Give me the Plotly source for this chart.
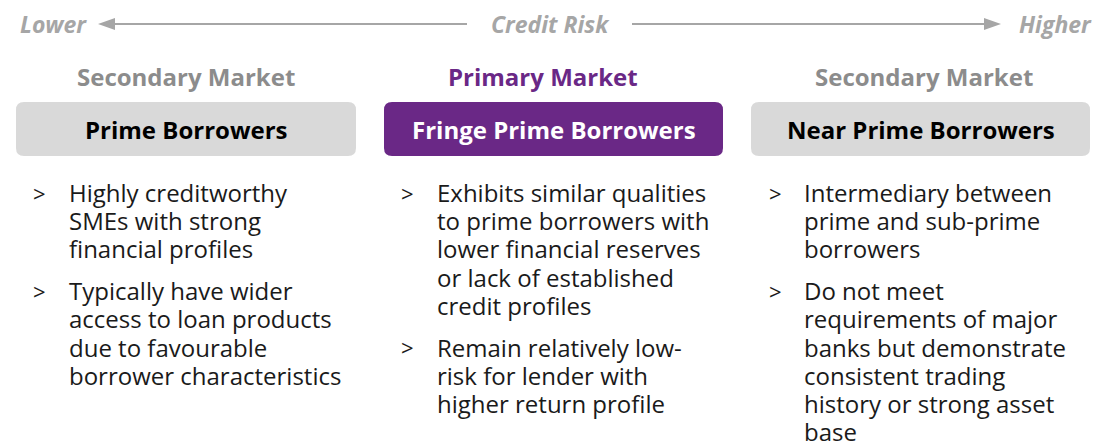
import plotly.graph_objects as go

W, H = 1099, 445
FONT = "Open Sans"
GREY_TXT = "#8c8c8c"
ARROW_GREY = "#a6a6a6"
PURPLE = "#6a2886"
BOX_GREY = "#d9d9d9"
BODY = "#1a1a1a"

# content
markets = ["Secondary Market", "Primary Market", "Secondary Market"]
market_centers = [186, 543, 924]
market_colors = [GREY_TXT, PURPLE, GREY_TXT]

boxes = ["Prime Borrowers", "Fringe Prime Borrowers", "Near Prime Borrowers"]
box_x0 = [16, 384, 751]
box_x1 = [356, 723, 1090]
box_fill = [BOX_GREY, PURPLE, BOX_GREY]
box_text = ["#000000", "#ffffff", "#000000"]

bullets = [
    [["Highly creditworthy", "SMEs with strong", "financial profiles"],
     ["Typically have wider", "access to loan products", "due to favourable",
      "borrower characteristics"]],
    [["Exhibits similar qualities", "to prime borrowers with",
      "lower financial reserves", "or lack of established", "credit profiles"],
     ["Remain relatively low-", "risk for lender with", "higher return profile"]],
    [["Intermediary between", "prime and sub-prime", "borrowers"],
     ["Do not meet", "requirements of major", "banks but demonstrate",
      "consistent trading", "history or strong asset", "base"]],
]
bullet_x = [31, 399, 767]
text_x = [67, 435, 802]
LINE_STEP = 28.2
PARA_GAP = 13.5


def rounded_rect(x0, y0, x1, y1, r):
    return (f"M {x0+r},{y0} L {x1-r},{y0} Q {x1},{y0} {x1},{y0+r} "
            f"L {x1},{y1-r} Q {x1},{y1} {x1-r},{y1} L {x0+r},{y1} "
            f"Q {x0},{y1} {x0},{y1-r} L {x0},{y0+r} Q {x0},{y0} {x0+r},{y0} Z")


fig = go.Figure()
shapes = []
ann = []

# credit risk arrow
ay = 24
shapes.append(dict(type="line", x0=110, x1=467, y0=ay, y1=ay, line=dict(color=ARROW_GREY, width=2)))
shapes.append(dict(type="line", x0=632, x1=990, y0=ay, y1=ay, line=dict(color=ARROW_GREY, width=2)))
shapes.append(dict(type="path", path=f"M 98,{ay} L 115,{ay-6} L 115,{ay+6} Z",
                   fillcolor=ARROW_GREY, line=dict(width=0)))
shapes.append(dict(type="path", path=f"M 1001,{ay} L 984,{ay-6} L 984,{ay+6} Z",
                   fillcolor=ARROW_GREY, line=dict(width=0)))
top_font = dict(family=FONT, size=23, color=ARROW_GREY)
ann.append(dict(x=18, y=ay, text="<b><i>Lower</i></b>", xanchor="left", font=top_font))
ann.append(dict(x=550, y=ay, text="<b><i>Credit Risk</i></b>", xanchor="center", font=top_font))
ann.append(dict(x=1094, y=ay, text="<b><i>Higher</i></b>", xanchor="right", font=top_font))

for i in range(3):
    ann.append(dict(x=market_centers[i], y=76, text=f"<b>{markets[i]}</b>", xanchor="center",
                    font=dict(family=FONT, size=24, color=market_colors[i])))
    shapes.append(dict(type="path", path=rounded_rect(box_x0[i], 102, box_x1[i], 156, 8),
                       fillcolor=box_fill[i], line=dict(width=0), layer="below"))
    ann.append(dict(x=(box_x0[i] + box_x1[i]) / 2, y=129, text=f"<b>{boxes[i]}</b>", xanchor="center",
                    font=dict(family=FONT, size=24, color=box_text[i])))
    y = 192.5
    for b in bullets[i]:
        ann.append(dict(x=bullet_x[i], y=y, text=">", xanchor="left",
                        font=dict(family=FONT, size=22, color=BODY)))
        for line in b:
            ann.append(dict(x=text_x[i], y=y, text=line, xanchor="left",
                            font=dict(family=FONT, size=24, color=BODY)))
            y += LINE_STEP
        y += PARA_GAP

for a in ann:
    a.update(xref="x", yref="y", yanchor="middle", showarrow=False)

fig.update_layout(
    width=W, height=H, margin=dict(l=0, r=0, t=0, b=0),
    paper_bgcolor="white", plot_bgcolor="white",
    xaxis=dict(range=[0, W], visible=False, fixedrange=True),
    yaxis=dict(range=[H, 0], visible=False, fixedrange=True),
    shapes=shapes, annotations=ann, showlegend=False,
)
# the page body has a default 8px margin; drop it so the figure sits at the window origin
fig.write_html("out.html", config=dict(displayModeBar=False),
               post_script="document.body.style.margin='0';")
